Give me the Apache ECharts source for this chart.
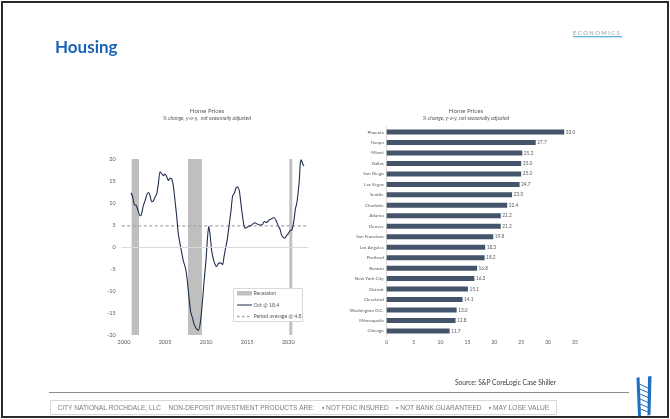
<!DOCTYPE html>
<html>
<head>
<meta charset="utf-8">
<script src="https://cdn.jsdelivr.net/npm/echarts@6/dist/echarts.min.js"></script>
<style>
  html, body { margin: 0; padding: 0; background: #ffffff; }
  #chart { width: 670px; height: 419px; }
</style>
</head>
<body>
<div id="chart"></div>
<script>
// Home prices, % change y-o-y (decimal year, value)
const years = [2000.85, 2001.01, 2001.26, 2001.46, 2001.66, 2001.95, 2002.11, 2002.35, 2002.60, 2002.76,
  2002.96, 2003.17, 2003.37, 2003.57, 2003.77, 2003.98, 2004.18, 2004.38, 2004.59, 2004.79,
  2004.99, 2005.19, 2005.40, 2005.60, 2005.80, 2006.01, 2006.21, 2006.41, 2006.61, 2006.82,
  2007.02, 2007.22, 2007.51, 2007.71, 2007.91, 2008.12, 2008.32, 2008.56, 2008.85, 2009.09,
  2009.33, 2009.54, 2009.74, 2009.98, 2010.14, 2010.31, 2010.47, 2010.67, 2010.87, 2011.08,
  2011.28, 2011.52, 2011.77, 2012.01, 2012.17, 2012.38, 2012.58, 2012.82, 2013.03, 2013.23,
  2013.43, 2013.63, 2013.80, 2014.04, 2014.24, 2014.45, 2014.65, 2014.85, 2015.14, 2015.42,
  2015.66, 2015.95, 2016.23, 2016.56, 2016.84, 2017.08, 2017.37, 2017.65, 2017.98, 2018.26,
  2018.50, 2018.79, 2018.99, 2019.19, 2019.40, 2019.60, 2019.80, 2020.00, 2020.21, 2020.45,
  2020.69, 2020.86, 2021.02, 2021.18, 2021.34, 2021.47, 2021.59, 2021.75, 2021.91];
const yoy = [12.3, 11.7, 9.6, 9.5, 8.6, 7.1, 7.3, 9.4, 10.7, 11.8,
  12.4, 11.7, 10.3, 10.5, 11.3, 12.0, 14.3, 17.1, 16.7, 16.2,
  16.6, 16.0, 15.1, 15.6, 15.5, 13.9, 10.5, 7.1, 3.0, 0.7,
  -1.2, -3.1, -5.0, -7.7, -11.4, -14.8, -16.0, -17.7, -18.6, -18.9,
  -16.7, -12.6, -8.0, -3.1, 1.4, 4.7, 3.0, -0.8, -2.7, -3.9,
  -4.4, -3.7, -3.6, -4.0, -2.3, -0.1, 1.8, 5.2, 8.3, 11.7,
  12.2, 13.4, 13.7, 12.8, 9.8, 6.7, 4.5, 4.3, 4.7, 4.8,
  5.2, 5.5, 5.2, 5.0, 5.1, 5.8, 5.6, 6.1, 6.4, 6.7,
  6.1, 4.8, 4.1, 2.7, 2.2, 2.0, 2.6, 3.0, 3.7, 3.9,
  6.0, 8.6, 9.8, 12.0, 15.1, 19.2, 19.8, 18.9, 18.4];
const periodAverage = 4.8;
const recessionLabel = 'Recession';
const latestLabel = 'Oct @ 18.4';
const averageLabel = 'Period average @ 4.8';

// Recession periods (decimal year start / end)
const recessionStart = [2000.93, 2007.79, 2020.13];
const recessionEnd = [2001.83, 2009.49, 2020.49];

// Left axis tick labels
const yearTicks = [2000, 2005, 2010, 2015, 2020];
const yoyTicks = [-20, -15, -10, -5, 0, 5, 10, 15, 20];
const xMin = 1999.72, xMax = 2022.44;

// Metro home prices, % change y-o-y
const metros = ['Phoenix', 'Tampa', 'Miami', 'Dallas', 'San Diego', 'Las Vegas', 'Seattle', 'Charlotte',
  'Atlanta', 'Denver', 'San Francisco', 'Los Angeles', 'Portland', 'Boston', 'New York City',
  'Detroit', 'Cleveland', 'Washington D.C.', 'Minneapolis', 'Chicago'];
const metroChange = [33.0, 27.7, 25.2, 25.0, 25.0, 24.7, 23.3, 22.4, 21.2, 21.2,
  19.8, 18.3, 18.2, 16.8, 16.3, 15.1, 14.1, 13.0, 12.8, 11.7];
const metroTicks = [0, 5, 10, 15, 20, 25, 30, 35];

const FONT = 'Lato';
const GREY_TEXT = '#595959';
const NAVY = '#44546a';
const LINE_NAVY = '#1f2d4f';
const RECESSION_GREY = '#bfbfbf';
const AVG_GREY = '#a6a6a6';

const lineData = years.map((y, i) => [y, yoy[i]]);
const avgData = [[xMin, periodAverage], [xMax, periodAverage]];
const recessionAreas = recessionStart.map((s, i) => [{ xAxis: s }, { xAxis: recessionEnd[i] }]);

// Key box for the left panel, kept above the shaded recession bands
const keyX = 233.5, keyY = 288.5, keyW = 69, keyH = 33;
const KEY_Z = 200;
const keyText = (t, y) => ({ type: 'text', z: KEY_Z + 1, x: keyX + 20, y: y,
  style: { text: t, font: '5.2px Lato', fill: GREY_TEXT, textVerticalAlign: 'middle' } });
const keyElements = [
  { type: 'rect', z: KEY_Z, shape: { x: keyX, y: keyY, width: keyW, height: keyH }, style: { fill: '#ffffff', stroke: '#d9d9d9', lineWidth: 1 } },
  { type: 'rect', z: KEY_Z + 1, shape: { x: keyX + 3.5, y: keyY + 2.6, width: 15, height: 4.4 }, style: { fill: RECESSION_GREY } },
  keyText(recessionLabel, keyY + 4.8),
  { type: 'line', z: KEY_Z + 1, shape: { x1: keyX + 3.5, y1: keyY + 16.5, x2: keyX + 18.5, y2: keyY + 16.5 }, style: { stroke: LINE_NAVY, lineWidth: 1 } },
  keyText(latestLabel, keyY + 16.5),
  { type: 'line', z: KEY_Z + 1, shape: { x1: keyX + 3.5, y1: keyY + 28, x2: keyX + 18.5, y2: keyY + 28 }, style: { stroke: AVG_GREY, lineWidth: 1.3, lineDash: [2.5, 2.5] } },
  keyText(averageLabel, keyY + 28)
];

const chart = echarts.init(document.getElementById('chart'), null, { renderer: 'canvas' });

chart.setOption({
  backgroundColor: '#ffffff',
  animation: false,
  textStyle: { fontFamily: FONT },
  grid: [
    { left: 121.7, right: 361.7, top: 159, bottom: 84 },
    { left: 386.7, right: 95, top: 126.8, bottom: 82.8 }
  ],
  xAxis: [
    {
      gridIndex: 0, type: 'value', min: xMin, max: xMax,
      axisLine: { show: false, onZero: false }, axisTick: { show: false }, splitLine: { show: false },
      axisLabel: { customValues: yearTicks, fontSize: 5.5, color: GREY_TEXT, margin: 4, fontFamily: FONT,
        formatter: v => String(Math.round(v)) }
    },
    {
      gridIndex: 1, type: 'value', min: 0, max: 35, interval: 5,
      axisLine: { show: false }, axisTick: { show: false }, splitLine: { show: false },
      axisLabel: { customValues: metroTicks, fontSize: 5, color: GREY_TEXT, margin: 4, fontFamily: FONT }
    }
  ],
  yAxis: [
    {
      gridIndex: 0, type: 'value', min: -20, max: 20, interval: 5,
      axisLine: { show: false }, axisTick: { show: false }, splitLine: { show: false },
      axisLabel: { customValues: yoyTicks, fontSize: 5.5, color: GREY_TEXT, margin: 6, fontFamily: FONT }
    },
    {
      gridIndex: 1, type: 'category', data: metros, inverse: true,
      axisLine: { show: true, lineStyle: { color: '#d9d9d9', width: 1 } },
      axisTick: { show: false }, splitLine: { show: false },
      axisLabel: { fontSize: 4.6, color: GREY_TEXT, margin: 3, fontFamily: FONT }
    }
  ],
  series: [
    {
      name: recessionLabel, type: 'line', xAxisIndex: 0, yAxisIndex: 0, data: [],
      silent: true,
      markArea: { silent: true, itemStyle: { color: RECESSION_GREY }, data: recessionAreas }
    },
    {
      name: averageLabel, type: 'line', xAxisIndex: 0, yAxisIndex: 0, data: avgData,
      symbol: 'none', z: 3, silent: true,
      lineStyle: { color: AVG_GREY, width: 1.3, type: [3, 2.5] },
      markLine: {
        silent: true, symbol: 'none', label: { show: false },
        lineStyle: { color: '#d9d9d9', width: 1, type: 'solid' },
        data: [{ yAxis: 0 }]
      }
    },
    {
      name: latestLabel, type: 'line', xAxisIndex: 0, yAxisIndex: 0, data: lineData,
      symbol: 'none', smooth: 0.2, z: 4,
      lineStyle: { color: LINE_NAVY, width: 1.1 }
    },
    {
      name: 'Metro', type: 'bar', xAxisIndex: 1, yAxisIndex: 1, data: metroChange,
      barWidth: 5, itemStyle: { color: NAVY },
      label: { show: true, position: 'right', distance: 1.5, fontSize: 4.8, color: GREY_TEXT,
        fontFamily: FONT, formatter: p => p.value.toFixed(1) }
    }
  ],
  graphic: [
    // page frame
    { type: 'rect', shape: { x: 2, y: 2, width: 666, height: 415 }, style: { fill: 'none', stroke: '#2b2b2b', lineWidth: 2 }, silent: true },
    // header
    { type: 'text', left: 55, top: 39, style: { text: 'Housing', font: 'bold 17px Lato', fill: '#1b63b6' } },
    { type: 'text', left: 573, top: 30, style: { text: 'E C O N O M I C S', font: '5.8px Lato', fill: '#9a9a9a' } },
    { type: 'rect', shape: { x: 573, y: 36.3, width: 49, height: 1 }, style: { fill: '#2b9ad8' } },
    // chart titles
    { type: 'text', x: 207, y: 111, style: { text: 'Home Prices', font: '6.2px Lato', fill: GREY_TEXT, textAlign: 'center', textVerticalAlign: 'middle' } },
    { type: 'text', x: 207, y: 118.5, style: { text: '% change, y-o-y,  not seasonally adjusted', font: 'italic 5.2px Lato', fill: GREY_TEXT, textAlign: 'center', textVerticalAlign: 'middle' } },
    { type: 'text', x: 466, y: 111, style: { text: 'Home Prices', font: '6.2px Lato', fill: GREY_TEXT, textAlign: 'center', textVerticalAlign: 'middle' } },
    { type: 'text', x: 466, y: 118.5, style: { text: '% change, y-o-y, not seasonally adjusted', font: 'italic 5.2px Lato', fill: GREY_TEXT, textAlign: 'center', textVerticalAlign: 'middle' } },
    ...keyElements,
    // source and footer
    { type: 'text', x: 556, y: 383, style: { text: 'Source: S&P CoreLogic Case Shiller', font: '6.6px Lato', fill: '#3a3a3a', textAlign: 'right', textVerticalAlign: 'middle' } },
    { type: 'line', shape: { x1: 49, y1: 392.5, x2: 629, y2: 392.5 }, style: { stroke: '#8c8c8c', lineWidth: 1 } },
    { type: 'rect', shape: { x: 50.5, y: 400.5, width: 506, height: 14 }, style: { fill: '#ffffff', stroke: '#d9d9d9', lineWidth: 1 } },
    { type: 'text', x: 57.5, y: 408, style: { text: 'CITY NATIONAL ROCHDALE, LLC    NON-DEPOSIT INVESTMENT PRODUCTS ARE:    \u25AA NOT FDIC INSURED    \u25AA NOT BANK GUARANTEED    \u25AA MAY LOSE VALUE', font: '6.6px "Liberation Sans", sans-serif', fill: '#7a7a7a', textVerticalAlign: 'middle' } },
    // ladder logo
    { type: 'polygon', shape: { points: [[636.5, 378], [639.5, 377], [641, 416], [638, 416.5]] }, style: { fill: '#1f6fc0' } },
    { type: 'polygon', shape: { points: [[648, 376.5], [651.5, 376], [650.5, 415], [647.5, 415.5]] }, style: { fill: '#1f6fc0' } },
    { type: 'polyline', shape: { points: [[639.5, 384], [648, 388]] }, style: { stroke: '#1f6fc0', lineWidth: 1 } },
    { type: 'polyline', shape: { points: [[639.8, 389], [648, 392.5]] }, style: { stroke: '#1f6fc0', lineWidth: 1 } },
    { type: 'polyline', shape: { points: [[640, 394], [648, 397.5]] }, style: { stroke: '#1f6fc0', lineWidth: 1 } },
    { type: 'polyline', shape: { points: [[640.2, 399], [648, 402.5]] }, style: { stroke: '#1f6fc0', lineWidth: 1 } },
    { type: 'polyline', shape: { points: [[640.4, 404], [648, 407.5]] }, style: { stroke: '#1f6fc0', lineWidth: 1 } },
    { type: 'polyline', shape: { points: [[640.6, 409], [648, 412]] }, style: { stroke: '#1f6fc0', lineWidth: 1 } }
  ]
});
</script>
</body>
</html>
